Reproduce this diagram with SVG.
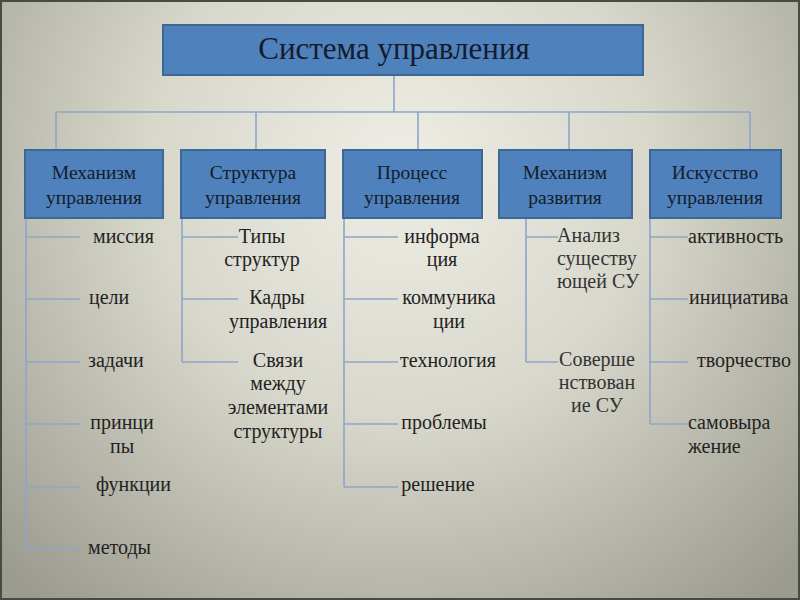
<svg xmlns="http://www.w3.org/2000/svg" width="800" height="600" viewBox="0 0 800 600">
<defs>
<radialGradient id="bg" cx="400" cy="170" r="560" gradientUnits="userSpaceOnUse">
<stop offset="0" stop-color="#efeee6"/>
<stop offset="0.45" stop-color="#d8d7cc"/>
<stop offset="1" stop-color="#9c9b8f"/>
</radialGradient>
<style>
.box{fill:#4f81bd;stroke:#3d6896;stroke-width:2}
.ttl{font-family:"Liberation Serif","DejaVu Serif",serif;fill:#141c2c;text-anchor:middle}
.hd{font-size:19.5px}
.lbl{font-family:"Liberation Serif","DejaVu Serif",serif;font-size:20px;fill:#222}
.c{text-anchor:middle}
.l{text-anchor:start}
.ln{stroke:#8ea6c4;stroke-width:1.6;fill:none}
</style>
</defs>
<rect x="0" y="0" width="800" height="600" fill="url(#bg)"/>
<rect x="1" y="1" width="798" height="598" fill="none" stroke="#4a4a44" stroke-width="2"/>

<g id="connectors" class="ln">
<path d="M394 76V112M56 112H750M56 112V150M256 112V150M418 112V150M569 112V150M750 112V150"/>
<path d="M26 219V549M26 237H80M26 299H80M26 362H80M26 424H80M26 487H80M26 549H80"/>
<path d="M182 219V362M182 237H238M182 299H238M182 362H238"/>
<path d="M344 219V487M344 237H398M344 299H398M344 362H398M344 424H398M344 487H398"/>
<path d="M526 219V362M526 237H558M526 362H558"/>
<path d="M650 219V424M650 237H688M650 299H688M650 362H688M650 424H688"/>
</g>

<g id="root">
<rect class="box" x="163" y="25" width="480" height="50"/>
<text class="ttl" x="394" y="59" font-size="31">Система управления</text>
</g>

<g id="n1">
<rect class="box" x="25" y="150" width="138" height="68"/>
<text class="ttl hd" x="94" y="179">Механизм</text>
<text class="ttl hd" x="94" y="204">управления</text>
</g>
<g id="n2">
<rect class="box" x="181" y="150" width="144" height="68"/>
<text class="ttl hd" x="253" y="179">Структура</text>
<text class="ttl hd" x="253" y="204">управления</text>
</g>
<g id="n3">
<rect class="box" x="343" y="150" width="139" height="68"/>
<text class="ttl hd" x="412" y="179">Процесс</text>
<text class="ttl hd" x="412" y="204">управления</text>
</g>
<g id="n4">
<rect class="box" x="499" y="150" width="133" height="68"/>
<text class="ttl hd" x="565" y="179">Механизм</text>
<text class="ttl hd" x="565" y="204">развития</text>
</g>
<g id="n5">
<rect class="box" x="650" y="150" width="131" height="68"/>
<text class="ttl hd" x="715" y="179">Искусство</text>
<text class="ttl hd" x="715" y="204">управления</text>
</g>

<g id="col1" class="lbl">
<text x="93" y="243">миссия</text>
<text x="89" y="304">цели</text>
<text x="88" y="367">задачи</text>
<text class="c" x="122" y="429">принци</text>
<text class="c" x="122" y="453">пы</text>
<text x="96" y="491">функции</text>
<text x="88" y="554">методы</text>
</g>
<g id="col2" class="lbl c">
<text x="262" y="243">Типы</text>
<text x="262" y="266">структур</text>
<text x="277" y="304">Кадры</text>
<text x="278" y="328">управления</text>
<text x="278" y="367">Связи</text>
<text x="278" y="390">между</text>
<text x="278" y="414">элементами</text>
<text x="278" y="438">структуры</text>
</g>
<g id="col3" class="lbl c">
<text x="442" y="243">информа</text>
<text x="442" y="266">ция</text>
<text x="449" y="304">коммуника</text>
<text x="449" y="328">ции</text>
<text x="448" y="367">технология</text>
<text x="444" y="429">проблемы</text>
<text x="438" y="491">решение</text>
</g>
<g id="col4" class="lbl c">
<text class="l" x="557" y="242" fill="#333">Анализ</text>
<text class="l" x="557" y="265" fill="#333">существу</text>
<text class="l" x="557" y="288" fill="#333">ющей СУ</text>
<text x="597" y="366" fill="#333">Соверше</text>
<text x="597" y="389" fill="#333">нствован</text>
<text x="597" y="412" fill="#333">ие СУ</text>
</g>
<g id="col5" class="lbl">
<text x="688" y="243">активность</text>
<text x="689" y="304">инициатива</text>
<text x="697" y="367">творчество</text>
<text x="688" y="429">самовыра</text>
<text x="688" y="453">жение</text>
</g>
</svg>
